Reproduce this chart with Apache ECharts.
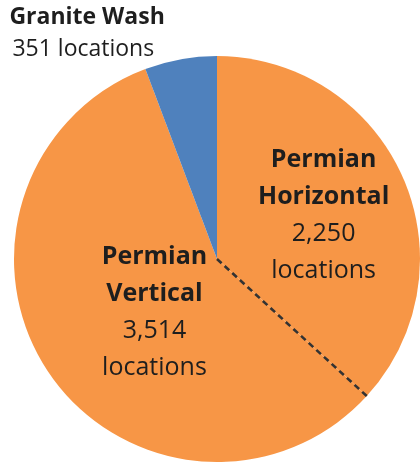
<!DOCTYPE html>
<html>
<head>
<meta charset="utf-8">
<script src="https://cdn.jsdelivr.net/npm/echarts@6/dist/echarts.min.js"></script>
<style>
    html, body { margin: 0; padding: 0; background: #fff; }
    #chart { width: 420px; height: 466px; }
</style>
</head>
<body>
<div id="chart"></div>
<script>
    // data
    var names = ['Permian Horizontal', 'Permian Vertical', 'Granite Wash'];
    var titleLines = [['Permian', 'Horizontal'], ['Permian', 'Vertical'], ['Granite Wash']];
    var locations = [2250, 3514, 351];
    var colors = ['#F79646', '#F79646', '#4F81BD'];

    var total = locations.reduce(function (a, b) { return a + b; }, 0);

    // dashed separator between the two Permian slices, drawn as a gauge pointer
    var dashPath = 'path://';
    for (var i = 0; i < 20; i++) {
        dashPath += 'M0,' + (i * 10) + 'h2.6v6h-2.6z';
    }

    var pieData = names.map(function (n, i) {
        var item = { name: n, value: locations[i], itemStyle: { color: colors[i] } };
        if (i === 2) {
            item.label = { position: 'outside' };
        }
        return item;
    });

    var chart = echarts.init(document.getElementById('chart'));
    chart.setOption({
        animation: false,
        textStyle: { fontFamily: '"Open Sans", sans-serif' },
        series: [
            {
                type: 'pie',
                silent: true,
                z: 2,
                center: [217, 259],
                radius: 203,
                startAngle: 90,
                clockwise: true,
                avoidLabelOverlap: false,
                itemStyle: { borderWidth: 0 },
                label: {
                    show: true,
                    position: 'inside',
                    color: '#1e1e1e',
                    formatter: function (p) {
                        var i = p.dataIndex;
                        var num = echarts.format.addCommas(locations[i]);
                        if (i === 2) {
                            return '{gb|' + titleLines[i][0] + '}\n{gn|' + num + ' locations}';
                        }
                        return titleLines[i].map(function (s) { return '{b|' + s + '}'; }).join('\n') +
                            '\n{n|' + num + '}\n{n|locations}';
                    },
                    rich: {
                        b: { fontSize: 25, fontWeight: 'bold', lineHeight: 37, color: '#1e1e1e', fontFamily: '"Open Sans", sans-serif' },
                        n: { fontSize: 25, lineHeight: 37, color: '#1e1e1e', fontFamily: '"Open Sans", sans-serif' },
                        gb: { fontSize: 23, fontWeight: 'bold', lineHeight: 32, color: '#1e1e1e', align: 'left', fontFamily: '"Open Sans", sans-serif' },
                        gn: { fontSize: 23, lineHeight: 32, color: '#1e1e1e', align: 'left', padding: [0, 0, 0, 3], fontFamily: '"Open Sans", sans-serif' }
                    }
                },
                labelLine: { show: false, length: 27, length2: 8 },
                labelLayout: function (params) {
                    if (params.dataIndex === 0) return { dx: 11, dy: -2 };
                    if (params.dataIndex === 1) return { dx: 24, dy: -5 };
                    return { dx: 2, dy: 1 };
                },
                data: pieData
            },
            {
                type: 'gauge',
                z: 10,
                center: [217, 259],
                radius: 203,
                startAngle: 90,
                endAngle: -270,
                min: 0,
                max: total,
                axisLine: { show: false },
                splitLine: { show: false },
                axisTick: { show: false },
                axisLabel: { show: false },
                anchor: { show: false },
                title: { show: false },
                detail: { show: false },
                pointer: {
                    icon: dashPath,
                    length: '100%',
                    width: 2.6,
                    keepAspect: false,
                    itemStyle: { color: '#333333' }
                },
                data: [{ value: locations[0] }]
            }
        ]
    });
</script>
</body>
</html>
